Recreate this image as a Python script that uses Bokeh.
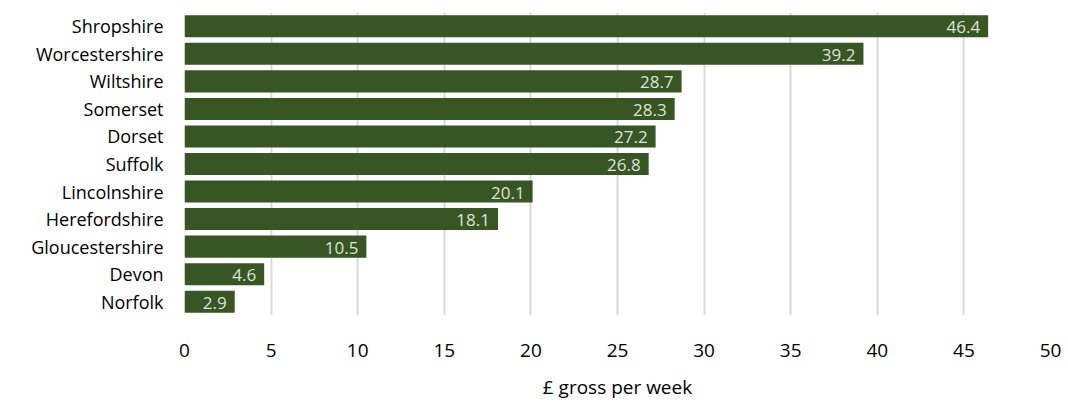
from bokeh.plotting import figure
from bokeh.models import ColumnDataSource, Range1d, FactorRange, LabelSet, FixedTicker
from bokeh.core.properties import value
from bokeh.embed import file_html
from bokeh.resources import INLINE

counties = ["Shropshire", "Worcestershire", "Wiltshire", "Somerset", "Dorset", "Suffolk",
            "Lincolnshire", "Herefordshire", "Gloucestershire", "Devon", "Norfolk"]
values = [46.4, 39.2, 28.7, 28.3, 27.2, 26.8, 20.1, 18.1, 10.5, 4.6, 2.9]
x_ticks = [0, 5, 10, 15, 20, 25, 30, 35, 40, 45, 50]

src = ColumnDataSource(dict(c=counties, v=values, lbl=[f"{v:.1f}" for v in values]))

p = figure(width=1068, height=402, output_backend="svg", toolbar_location=None,
           y_range=FactorRange(*reversed(counties)), x_range=Range1d(0, 50),
           min_border_left=184, min_border_right=18, min_border_top=12, min_border_bottom=86)
p.outline_line_color = None
p.hbar(y="c", right="v", left=0, height=0.8, source=src, fill_color="#375623", line_color=None)

labels = LabelSet(x="v", y="c", text="lbl", source=src, x_offset=-8, y_offset=-1,
                  text_align="right", text_baseline="middle", text_color="#dfe3da",
                  text_font=value("Open Sans"), text_font_size="17px")
p.add_layout(labels)

p.xaxis.ticker = FixedTicker(ticks=x_ticks)
p.xaxis.axis_line_color = None
p.xaxis.major_tick_line_color = None
p.xaxis.minor_tick_line_color = None
p.xaxis.major_label_text_font = "Open Sans"
p.xaxis.major_label_text_font_size = "19px"
p.xaxis.major_label_text_color = "#000000"
p.xaxis.major_label_standoff = 22
p.xaxis.axis_label = "£ gross per week"
p.xaxis.axis_label_text_font = "Open Sans"
p.xaxis.axis_label_text_font_size = "19px"
p.xaxis.axis_label_text_font_style = "normal"
p.xaxis.axis_label_text_color = "#000000"
p.xaxis.axis_label_standoff = 14

p.yaxis.axis_line_color = None
p.yaxis.major_tick_line_color = None
p.yaxis.major_label_text_font = "Open Sans"
p.yaxis.major_label_text_font_size = "18px"
p.yaxis.major_label_text_color = "#000000"
p.yaxis.major_label_standoff = 15

p.ygrid.grid_line_color = None
p.xgrid.grid_line_color = "#d9d9d9"
p.xgrid.grid_line_width = 2

open("out.html", "w").write(file_html(p, INLINE))
